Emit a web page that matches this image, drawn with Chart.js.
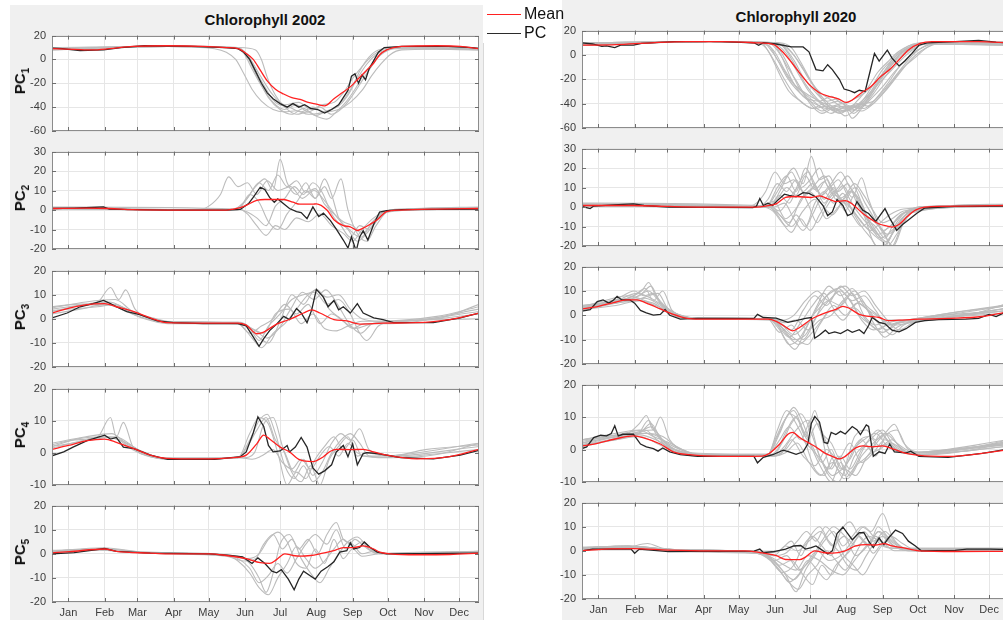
<!DOCTYPE html>
<html>
<head>
<meta charset="utf-8">
<script src="https://cdn.jsdelivr.net/npm/chart.js@4.4.0/dist/chart.umd.min.js"></script>
<style>
    body { margin: 0; width: 1003px; height: 620px; overflow: hidden; background: #fff; position: relative; font-family: "Liberation Sans", Arial, sans-serif; }
    .fig { position: absolute; background: #f0f0f0; }
    #figL { left: 10px; top: 5px; width: 473px; height: 615px; border-right: 1px solid #d8d8d8; }
    #figR { left: 562px; top: 0; width: 441px; height: 620px; }
    .title { position: absolute; font-weight: bold; font-size: 15px; color: #111; transform: translateX(-50%); white-space: nowrap; }
    .ylab { position: absolute; font-weight: bold; font-size: 15px; color: #111; transform: translate(-50%, -50%) rotate(-90deg); white-space: nowrap; }
    .ylab sub { font-size: 10px; }
    canvas { position: absolute; }
    #legend { position: absolute; left: 483px; top: 0; width: 79px; height: 43px; background: #fff; font-size: 16px; color: #111; }
    #legend div { position: absolute; left: 4px; height: 18px; line-height: 18px; white-space: nowrap; }
    #legend span { display: inline-block; width: 34px; height: 0; vertical-align: middle; margin-right: 3px; }
</style>
</head>
<body>
<div class="fig" id="figL"></div>
<div class="fig" id="figR"></div>
<div class="title" style="left:265px; top:11px;">Chlorophyll 2002</div>
<div class="title" style="left:796px; top:8px;">Chlorophyll 2020</div>
<div id="legend">
    <div style="top:5px;"><span style="border-top:1.5px solid #ff2020;"></span>Mean</div>
    <div style="top:24px;"><span style="border-top:1.5px solid #2b2b2b;"></span>PC</div>
</div>

<script>
// Month labels sit at mid-month (day of year)
const months = ["Jan", "Feb", "Mar", "Apr", "May", "Jun", "Jul", "Aug", "Sep", "Oct", "Nov", "Dec"];
const monthDays = [15, 46, 74, 105, 135, 166, 196, 227, 258, 288, 319, 349];

// y axis [min, max, step] for PC1..PC5
const yRanges = [[-60, 20, 20], [-20, 30, 10], [-20, 20, 10], [-10, 20, 10], [-20, 20, 10]];

// ---------- 2002 ----------
const mean2002_1 = [[1,9],[20,8.5],[35,8],[50,9],[70,11],[100,11.5],[130,11],[150,10],[160,9],[167,5],[173,0],[179,-9],[185,-18],[192,-25],[199,-29],[206,-32],[213,-33.5],[220,-36],[227,-37.5],[234,-39],[242,-33],[249,-28],[256,-23],[263,-16],[270,-9],[276,-3],[281,4],[287,8],[293,10],[300,11],[330,11.5],[350,11],[366,9]];
const pc2002_1 = [[1,9.5],[10,9],[15,8.5],[25,7.5],[45,8],[60,10],[80,11.5],[120,11],[150,10],[160,9],[165,6],[170,0],[175,-10],[180,-20],[185,-28],[190,-33],[196,-37],[202,-40],[207,-37],[212,-40],[217,-38],[222,-41],[228,-42],[234,-45],[240,-42],[246,-38],[250,-32],[254,-26],[257,-14],[260,-12],[263,-20],[266,-13],[269,-17],[272,-8],[276,-1],[280,6],[285,10],[300,11],[340,11],[360,10],[366,9]];
const others2002_1 = [
    [[1,9],[60,10],[100,11],[140,9],[150,6],[158,0],[165,-12],[172,-25],[180,-35],[190,-42],[200,-44],[210,-43],[220,-46],[230,-45],[240,-42],[250,-34],[258,-22],[265,-8],[272,2],[280,8],[300,10],[366,9]],
    [[1,8],[100,11],[160,10],[175,8],[180,0],[185,-15],[192,-30],[200,-40],[210,-46],[220,-44],[228,-48],[236,-50],[244,-44],[252,-36],[260,-25],[268,-12],[276,-2],[285,6],[300,10],[366,8]],
    [[1,8],[100,11.5],[155,10],[165,5],[172,-8],[180,-22],[190,-36],[200,-42],[210,-38],[220,-44],[230,-40],[240,-46],[250,-40],[258,-30],[266,-18],[274,-6],[282,4],[292,9],[366,8]],
    [[1,9],[100,11],[160,9],[168,2],[176,-14],[186,-32],[196,-42],[206,-46],[216,-41],[226,-47],[236,-43],[246,-39],[254,-30],[262,-16],[270,-4],[278,4],[290,9],[366,10]],
    [[1,10],[100,11],[160,10],[168,4],[178,-12],[190,-30],[200,-38],[212,-36],[222,-42],[232,-38],[242,-36],[250,-28],[258,-16],[266,-6],[276,4],[290,10],[366,9]],
    [[1,9],[100,11],[162,9],[170,0],[180,-18],[192,-36],[204,-40],[214,-44],[224,-40],[234,-44],[246,-42],[256,-36],[266,-26],[274,-14],[282,-4],[290,4],[300,8],[366,9]]
];

const mean2002_2 = [[1,0.8],[30,1],[50,0.8],[70,0.2],[100,0],[150,0],[156,0.5],[162,1.2],[167,2.4],[176,5],[183,5.4],[199,5.4],[207,4],[213,3],[224,3],[227,3.2],[236,0],[242,-5],[250,-8],[256,-8.6],[262,-10.5],[267,-9.3],[273,-7.3],[279,-5],[287,-0.8],[299,0],[330,0.5],[366,0.8]];
const pc2002_2 = [[1,0.8],[20,1],[35,1.3],[45,1.6],[50,0.5],[70,0.2],[100,0],[150,0],[162,0.3],[169,3.3],[173,6.5],[179,11.7],[183,10.5],[187,6.5],[191,4],[194,5.7],[199,3.2],[204,0.8],[210,-0.8],[214,-1.3],[219,-4.4],[224,1.6],[229,-3.3],[233,-1.6],[239,-5.4],[244,-9.8],[250,-15.4],[254,-19.5],[257,-13.8],[261,-21],[264,-13.8],[267,-10.6],[271,-15.4],[276,-7.3],[281,-1.1],[287,-0.3],[300,0.2],[366,0.5]];
const others2002_2 = [
    [[1,1],[125,0],[135,2],[145,8],[152,17],[160,12],[168,14],[176,8],[185,15],[194,10],[205,12],[215,6],[225,10],[235,4],[245,-4],[255,-10],[265,-14],[275,-6],[285,-1],[300,0.5],[366,1]],
    [[1,1],[150,0],[160,1],[168,-2],[176,-8],[184,-13],[192,-8],[200,-10],[210,-4],[220,-6],[230,-2],[240,-8],[250,-12],[258,-16],[266,-10],[276,-4],[290,0],[366,1]],
    [[1,0.5],[155,0],[165,4],[175,12],[183,16],[190,10],[196,26],[202,14],[210,8],[218,14],[226,6],[234,12],[240,6],[248,16],[254,0],[262,-12],[270,-16],[278,-8],[290,0],[366,0.5]],
    [[1,1],[158,0],[168,6],[178,14],[186,10],[194,18],[202,12],[210,15],[218,9],[226,11],[234,3],[242,-2],[250,-6],[258,-8],[266,-12],[276,-6],[288,-1],[366,1]],
    [[1,1.5],[158,0.5],[168,-1],[176,-4],[184,-8],[192,2],[200,6],[208,12],[216,8],[224,14],[232,9],[240,-2],[248,-8],[256,-14],[264,-8],[272,-10],[282,-3],[295,0],[366,1.5]],
    [[1,0.5],[160,0],[170,8],[178,4],[186,-6],[194,-10],[202,-2],[210,4],[218,10],[226,6],[234,16],[240,8],[246,-4],[254,-10],[262,-16],[270,-12],[280,-4],[295,0],[366,0.5]]
];

const mean2002_3 = [[1,2.4],[15,4.3],[28,5.7],[46,6.3],[56,5],[71,3],[85,0.4],[99,-1.6],[130,-1.8],[160,-1.8],[167,-2.6],[176,-6.2],[182,-5.5],[193,-2.2],[204,-0.3],[216,2.4],[223,3.7],[230,2.4],[242,-0.3],[253,-0.9],[264,-2.2],[284,-1.8],[312,-1.6],[341,-0.3],[366,2.4]];
const pc2002_3 = [[1,0.4],[14,2.4],[25,5],[36,6.3],[45,7.6],[51,6.3],[56,5],[65,3],[76,1.7],[91,-0.9],[105,-1.6],[130,-2],[160,-2],[167,-2.9],[173,-7.5],[178,-11.4],[182,-8.2],[187,-4.9],[193,-2.2],[199,1],[204,-0.3],[210,4.3],[214,2.4],[219,-1.6],[223,3.7],[227,12.2],[233,9],[237,5],[242,7.6],[246,3.7],[250,5],[256,2.4],[262,6.3],[267,2.4],[276,0.4],[284,-0.3],[293,-1.6],[327,-1.6],[350,0.4],[366,2.4]];
const others2002_3 = [
    [[1,5],[20,6],[40,7],[51,13],[58,8],[64,12],[72,4],[85,0],[100,-1.5],[160,-1.5],[170,-4],[178,-9],[186,-3],[196,2],[206,8],[216,10],[226,11],[236,6],[246,8],[256,2],[264,-6],[270,-9],[280,-3],[295,-1],[330,0],[366,6]],
    [[1,3],[20,5],[45,6],[60,5],[75,2],[95,-1],[160,-2],[172,-8],[180,-12],[190,-6],[200,-2],[210,4],[220,10],[228,12],[238,4],[248,0],[258,-4],[268,-2],[290,-2],[366,4]],
    [[1,4],[30,6],[50,7],[65,4],[80,1],[100,-1.5],[160,-2],[175,-5],[185,-8],[195,-4],[205,4],[215,11],[225,8],[235,12],[245,6],[255,-2],[265,-6],[275,-2],[300,-1],[366,3]],
    [[1,2],[25,4],[48,6],[60,4],[80,0],[100,-2],[160,-2],[170,-6],[180,-3],[190,0],[200,6],[210,2],[220,6],[230,-2],[240,2],[250,-1],[260,-4],[275,-2],[366,0]],
    [[1,4.5],[30,7],[55,8],[70,3],[90,0],[110,-1.8],[165,-2],[176,-7],[186,-10],[196,-1],[206,10],[216,6],[226,12],[236,9],[246,10],[256,4],[266,0],[280,-1],[330,1],[366,5]],
    [[1,3.5],[40,5],[55,6],[70,2],[100,-1.5],[162,-1.5],[172,-4],[182,-6],[192,2],[204,4],[214,-2],[224,2],[234,-4],[244,-5],[254,-3],[266,-1],[300,-1],[366,2]]
];

const mean2002_4 = [[1,1.1],[15,2.3],[31,3.8],[46,4.3],[56,3.3],[71,1.3],[85,-0.7],[99,-1.7],[128,-1.9],[156,-1.5],[167,-0.7],[176,2.8],[182,5.5],[187,4.3],[196,1.8],[204,0.3],[213,-2.2],[224,-2.7],[233,-1.2],[239,0.5],[244,1.1],[256,1],[267,1.1],[276,0.3],[287,-0.7],[313,-1.9],[341,-1.2],[366,1.1]];
const pc2002_4 = [[1,-0.9],[11,0.3],[19,1.8],[31,3.8],[46,5.5],[51,4.3],[56,4.8],[62,1.8],[71,1.3],[85,-0.7],[100,-2],[140,-2],[162,-1.2],[167,0.3],[173,6.2],[177,11.2],[182,8.2],[186,2.3],[190,0.3],[196,0.6],[202,2.3],[204,0.3],[209,1.8],[214,4.8],[219,1.8],[224,-4.7],[229,-6.6],[234,-5.6],[240,-3.7],[244,0.3],[250,2.3],[254,-1.2],[258,2.8],[262,-3.7],[267,-0.2],[270,0.1],[279,-0.2],[299,-1.5],[327,-1.9],[350,-0.7],[366,0.8]];
const others2002_4 = [
    [[1,2.5],[20,4],[40,5],[51,11],[56,5],[62,9.5],[70,2],[85,-1],[110,-2],[160,-1.5],[170,4],[178,10],[185,12],[192,6],[200,-4],[208,-8],[216,-4],[224,-9],[232,-6],[240,0],[248,4],[256,6],[264,3],[272,-1],[290,-1.5],[330,-0.5],[366,3]],
    [[1,2],[25,4.5],[45,5],[58,4],[70,1],[90,-1.5],[165,-1.5],[174,0],[182,9],[190,11],[198,2],[206,-6],[214,-9],[222,-4],[230,-10],[238,-2],[246,2],[254,5],[262,-1],[270,0],[290,-1],[366,2]],
    [[1,1.5],[30,4],[50,5],[65,3],[80,0],[100,-2],[160,-1.5],[168,2],[176,7],[184,11],[192,4],[200,0],[208,-6],[216,-2],[224,-7],[232,-3],[240,3],[248,6],[256,4],[264,7.5],[272,1],[290,-1],[320,1],[366,2.5]],
    [[1,3],[30,5],[52,6],[64,3],[80,-0.5],[100,-2],[162,-1.5],[172,-2],[180,-1],[190,1],[198,-3],[206,-5],[214,-2],[222,-5],[230,-1],[238,2],[246,-1],[254,3],[262,0],[280,-1.5],[366,1]],
    [[1,2],[35,4],[55,5],[75,1],[100,-2],[160,-1.5],[170,6],[178,11],[186,9],[194,0],[202,-10],[210,-6],[218,-8],[226,-2],[234,2],[242,5],[250,1],[258,4],[266,-1],[280,-1],[366,3]]
];

const mean2002_5 = [[1,0.4],[16,0.9],[46,2],[56,1],[85,0.3],[100,0],[136,0],[150,-0.7],[167,-2],[179,-3.7],[187,-4],[193,-2.4],[200,0],[207,-0.7],[213,-1],[222,-0.7],[230,0],[242,1.3],[250,2.6],[259,2.6],[267,3.3],[276,2],[281,0.7],[290,0],[313,-0.4],[341,-0.3],[366,0.3]];
const pc2002_5 = [[1,0],[20,0.5],[46,2.2],[56,1],[85,0.3],[136,0],[153,-0.7],[164,-1.3],[172,-4],[177,-1.7],[183,-4],[189,-7.2],[193,-7.9],[197,-6.6],[203,-10.5],[208,-14.9],[212,-10.5],[216,-7.2],[222,-9.2],[226,-10.5],[231,-7.2],[237,-5.3],[242,-3.3],[247,0.7],[253,1.3],[256,4.6],[259,2],[264,2.6],[268,4.9],[273,2.6],[279,0.7],[287,0],[366,0.3]];
const others2002_5 = [
    [[1,1],[40,2],[70,1],[130,0],[160,-1],[170,-4],[178,-10],[184,-16],[190,-8],[196,4],[204,8],[212,2],[220,6],[228,0],[236,8],[244,13],[250,6],[258,4],[266,0],[276,1],[290,0],[366,1]],
    [[1,1.5],[45,2],[80,0.5],[140,0],[160,-2],[170,-6],[178,-12],[186,-9],[194,-4],[202,-8],[210,-2],[218,4],[226,8],[236,4],[244,10],[252,2],[260,6],[268,3],[280,0],[366,0.5]],
    [[1,0.5],[40,1.5],[75,0.5],[150,-1],[165,-3],[175,-2],[182,4],[190,8],[198,2],[206,6],[214,-2],[222,-8],[230,-12],[238,-6],[246,0],[254,5],[262,7],[272,2],[282,0],[366,0.5]],
    [[1,1],[50,2],[80,0.5],[150,-0.5],[160,-3],[170,-8],[178,-14],[186,-17],[194,-10],[202,-4],[210,3],[218,-2],[226,-6],[234,-3],[242,2],[250,6],[258,3],[266,5],[276,1],[290,0],[366,1]],
    [[1,1],[45,2.5],[80,0.5],[155,-1],[168,-2],[178,0],[186,6],[194,9],[202,5],[210,-4],[218,-6],[226,2],[234,-4],[242,6],[250,-2],[258,2],[266,-1],[280,0],[366,1]]
];

// ---------- 2020 ----------
const mean2020_1 = [[1,8],[30,8.5],[60,10],[90,11],[120,11],[150,10],[165,8.5],[172,3],[180,-6],[188,-16],[196,-25],[204,-31],[212,-34],[220,-36],[227,-39],[232,-37],[240,-31],[248,-26],[256,-18],[264,-12],[272,-4],[280,4],[290,9.5],[300,11],[340,11],[366,10]];
const pc2020_1 = [[1,10],[10,9],[18,7],[22,7.5],[29,6],[34,8],[45,8],[52,9.5],[80,11],[120,11],[148,10],[152,8],[156,10],[167,9],[180,6.6],[190,6.6],[195,2.6],[201,-12],[207,-13],[211,-8],[215,-12],[221,-20],[225,-28],[229,-29],[234,-31],[238,-29],[243,-30],[248,-10.5],[251,1.3],[255,-5],[262,4],[266,-2.6],[272,-9],[277,-5],[283,1.3],[289,8],[296,10],[320,11],[340,12],[355,10.5],[366,10]];
const others2020_1 = [
    [[1,9],[60,10],[110,11],[150,10],[158,6],[166,-6],[174,-20],[182,-32],[190,-40],[200,-44],[210,-42],[220,-47],[230,-45],[240,-38],[250,-28],[258,-18],[266,-8],[274,2],[284,8],[300,10],[366,9]],
    [[1,8],[110,11],[160,10],[170,4],[178,-10],[186,-26],[196,-38],[206,-46],[216,-43],[226,-50],[236,-44],[246,-34],[256,-22],[266,-12],[276,-2],[288,7],[305,10],[366,9]],
    [[1,10],[110,11],[165,9],[175,2],[185,-14],[195,-30],[205,-40],[215,-45],[225,-42],[233,-48],[242,-40],[250,-30],[258,-16],[266,-4],[276,5],[290,10],[366,10]],
    [[1,9],[110,11],[155,9],[162,0],[170,-16],[178,-30],[188,-38],[198,-44],[208,-40],[218,-46],[228,-42],[238,-44],[248,-36],[258,-26],[268,-14],[278,-4],[288,4],[300,9],[366,9]],
    [[1,8],[110,11],[168,9],[178,4],[188,-8],[198,-24],[206,-36],[214,-42],[224,-40],[232,-52],[240,-44],[248,-32],[256,-20],[264,-10],[272,-2],[282,6],[296,10],[366,8]],
    [[1,9],[110,11],[160,8],[168,-4],[176,-18],[184,-28],[194,-36],[204,-38],[214,-34],[224,-40],[234,-36],[244,-30],[254,-20],[262,-10],[272,0],[282,7],[296,10],[366,9]],
    [[1,10],[110,11],[172,9],[182,0],[190,-12],[198,-24],[206,-32],[216,-38],[226,-44],[236,-40],[246,-42],[256,-34],[266,-22],[276,-10],[286,-2],[296,6],[310,10],[366,10]],
    [[1,8],[110,11],[158,9],[166,2],[174,-12],[184,-26],[194,-34],[204,-42],[214,-48],[222,-44],[232,-46],[242,-36],[250,-24],[258,-12],[266,-4],[276,4],[290,9],[366,8]],
    [[1,9],[110,11],[166,10],[174,6],[182,-4],[190,-18],[200,-30],[210,-38],[220,-36],[230,-42],[240,-40],[250,-38],[260,-28],[270,-16],[280,-4],[290,5],[304,10],[366,9]],
    [[1,10],[110,11],[162,9],[170,1],[178,-12],[186,-24],[196,-40],[206,-48],[216,-44],[226,-46],[236,-38],[246,-26],[254,-14],[262,-6],[272,3],[286,9],[366,10]],
    [[1,9],[110,11],[164,9],[172,-2],[180,-20],[190,-34],[200,-40],[210,-44],[220,-42],[230,-44],[240,-46],[250,-40],[260,-30],[270,-18],[280,-6],[292,4],[306,10],[366,9]],
    [[1,8],[110,11],[170,10],[180,6],[188,-6],[196,-20],[204,-32],[212,-40],[222,-46],[232,-44],[242,-38],[252,-24],[260,-14],[268,-4],[278,4],[292,9],[366,8]],
    [[1,9],[110,11],[156,10],[164,2],[172,-10],[180,-22],[190,-30],[200,-36],[210,-40],[220,-38],[230,-43],[240,-42],[250,-32],[260,-18],[270,-6],[280,3],[294,9],[366,9]],
    [[1,10],[110,11],[168,10],[176,3],[184,-10],[192,-24],[202,-36],[212,-44],[222,-48],[232,-42],[242,-44],[252,-36],[262,-24],[272,-10],[282,0],[294,7],[310,10],[366,10]]
];

const mean2020_2 = [[1,0.8],[45,0.8],[75,0.3],[105,0],[150,0],[158,0.5],[167,1.6],[175,4.9],[184,5.4],[197,4.9],[204,5.7],[212,4],[218,2.8],[226,3.3],[232,1.6],[241,-3.3],[249,-6.6],[255,-8.7],[262,-9.8],[266,-10.3],[272,-9],[279,-4.9],[286,-1.6],[294,0],[330,0.5],[366,0.8]];
const pc2020_2 = [[1,0.3],[8,-0.8],[11,0.5],[28,1.1],[45,1.6],[54,0.8],[75,0],[147,-0.3],[150,0.3],[153,4.4],[156,0.8],[160,2],[164,0.8],[168,3.3],[174,6.6],[178,6],[184,5.2],[190,7.4],[195,7],[201,5.2],[207,0.8],[211,-4.4],[215,-2.5],[219,3.8],[224,0.8],[228,-4.4],[232,-3.3],[236,2.8],[241,-1.6],[246,-3.3],[252,-7.4],[255,-4.9],[260,-0.8],[264,-5.7],[270,-12],[275,-9],[280,-6.6],[287,-3.3],[294,-0.5],[320,0.3],[366,0.5]];
const others2020_2 = [
    [[1,1],[140,0],[150,2],[158,8],[166,18],[174,12],[182,14],[190,8],[198,12],[206,6],[214,10],[222,4],[230,0],[240,-8],[250,-14],[260,-18],[268,-12],[278,-4],[290,0],[366,1]],
    [[1,1.5],[155,0],[164,-2],[172,-8],[180,-13],[188,-6],[196,-12],[204,-4],[212,4],[220,10],[228,16],[236,8],[244,-4],[252,-12],[262,-20],[270,-14],[280,-4],[292,0],[366,1]],
    [[1,0.5],[158,0],[166,6],[174,14],[182,20],[190,12],[197,26],[204,14],[212,16],[220,8],[228,12],[236,2],[244,-6],[252,-10],[260,-16],[268,-8],[280,-2],[366,0.5]],
    [[1,1],[160,0],[168,4],[176,10],[184,6],[192,16],[200,9],[208,13],[216,6],[224,11],[232,5],[240,15],[246,4],[254,-8],[262,-14],[272,-10],[282,-3],[366,1]],
    [[1,2],[160,0.5],[168,-4],[176,-10],[184,-4],[192,-10],[200,2],[208,8],[216,2],[224,7],[232,-2],[240,-10],[248,-16],[256,-22],[264,-16],[274,-6],[286,-1],[366,1.5]],
    [[1,1],[158,0],[168,10],[176,16],[184,8],[192,20],[200,12],[208,4],[216,10],[224,2],[232,8],[240,-2],[248,-6],[258,-12],[266,-20],[274,-10],[284,-2],[366,1]],
    [[1,0.5],[165,0],[174,2],[182,-6],[190,-12],[198,-4],[206,6],[214,12],[222,18],[230,10],[238,4],[246,-8],[254,-14],[262,-18],[270,-8],[280,-2],[366,0.5]],
    [[1,1],[152,0],[160,4],[168,12],[176,8],[184,14],[192,6],[200,10],[208,2],[216,8],[224,3],[232,-4],[240,-10],[250,-6],[258,-12],[266,-9],[276,-3],[290,0],[366,1]],
    [[1,1.5],[162,0],[170,-2],[178,4],[186,10],[194,2],[202,-8],[210,0],[218,6],[226,-2],[234,6],[242,-4],[250,-18],[258,-22],[266,-14],[276,-5],[288,0],[366,1]],
    [[1,1],[160,0],[170,6],[178,2],[186,12],[194,18],[202,8],[210,14],[218,4],[226,6],[234,12],[242,6],[250,-2],[258,-8],[266,-6],[276,-2],[366,1]],
    [[1,1],[150,0],[160,2],[170,-4],[180,-10],[190,-2],[200,4],[210,-6],[220,0],[230,8],[240,2],[248,-10],[256,-16],[266,-12],[278,-4],[290,0],[366,1]],
    [[1,0.5],[162,0],[170,8],[180,18],[188,10],[196,14],[204,20],[212,10],[220,14],[228,6],[236,-2],[244,-8],[254,-14],[264,-10],[276,-3],[366,0.5]],
    [[1,1.5],[155,0],[165,3],[175,-6],[185,0],[195,8],[205,2],[215,-4],[225,4],[235,10],[243,2],[251,-6],[259,-14],[267,-20],[276,-8],[288,-1],[366,1]],
    [[1,1],[160,0],[168,-3],[178,-8],[188,4],[198,10],[208,16],[218,6],[228,2],[238,-6],[248,-12],[256,-8],[264,-4],[276,-1],[366,1]]
];

const mean2020_3 = [[1,2.6],[15,3.7],[28,5.2],[39,6.3],[48,6.3],[56,5],[68,2.6],[79,0.4],[90,-1.2],[102,-1.6],[160,-1.6],[167,-2.5],[175,-4.8],[181,-6.4],[187,-5],[197,-1.6],[209,1],[218,2.4],[224,3.7],[229,3],[238,0.4],[244,-0.3],[255,-0.9],[263,-2.2],[272,-2],[289,-1.6],[314,-1.3],[343,-0.5],[366,1.5]];
const pc2020_3 = [[1,1.7],[8,2.3],[14,5.6],[19,6.3],[24,5],[28,6.3],[31,7.8],[35,6.3],[42,6.3],[46,5],[51,2],[56,1],[62,0.1],[68,0.4],[72,2.4],[76,0],[85,-1.6],[100,-1.3],[148,-1.3],[151,0.4],[156,-0.9],[167,-1.2],[177,-2.9],[184,-2.2],[192,-1.3],[197,-0.9],[200,-9.4],[204,-8.1],[209,-6.1],[212,-7.5],[217,-6.8],[222,-7.5],[228,-5.9],[232,-7],[238,-5.9],[242,-7.5],[246,-4.2],[249,-0.9],[255,-2.9],[260,-3.5],[266,-6.1],[272,-6.8],[278,-5.5],[286,-2.9],[294,-2.2],[306,-1.8],[329,-1.6],[340,-1.3],[349,0.4],[355,-0.5],[366,2]];
const others2020_3 = [
    [[1,3],[20,5],[40,7],[52,10],[58,13.5],[64,8],[72,3],[85,-1],[110,-1.5],[160,-1.5],[170,-6],[178,-12],[186,-10],[196,-2],[206,6],[216,10],[226,12],[236,6],[246,2],[256,-4],[266,-8],[276,-4],[290,-2],[330,0],[366,5]],
    [[1,2],[25,5],[45,8],[55,11],[62,6],[70,10],[78,2],[95,-1],[160,-1.5],[172,-4],[182,-8],[192,-4],[202,2],[212,6],[222,4],[232,9],[242,0],[252,-4],[262,-2],[280,-2],[366,3]],
    [[1,4],[30,6],[48,9],[60,7],[70,4],[85,0],[105,-1.5],[165,-2],[175,-10],[183,-14],[192,-6],[202,4],[212,12],[222,8],[232,11],[242,4],[252,-2],[262,-6],[272,-3],[300,-1.5],[366,2]],
    [[1,3],[30,5],[50,6],[62,5],[76,1],[100,-1.5],[160,-1.5],[170,-3],[180,-6],[190,2],[200,8],[210,4],[220,10],[230,3],[240,6],[250,-3],[260,-9],[270,-5],[285,-2],[366,4]],
    [[1,2],[30,5],[52,7],[66,9],[74,3],[90,-0.5],[110,-1.5],[165,-1.5],[176,-8],[186,-12],[196,-8],[206,-2],[216,4],[226,0],[236,5],[246,2],[256,-1],[268,-4],[290,-2],[366,1]],
    [[1,3.5],[20,6],[40,8],[55,6],[70,2],[90,-1],[160,-1.5],[172,-2],[182,0],[192,6],[202,10],[212,6],[222,12],[232,8],[242,10],[252,4],[262,-2],[272,-6],[284,-3],[300,-2],[366,3]],
    [[1,2.5],[25,6],[50,8],[60,12],[66,7],[80,1],[100,-1.5],[162,-1.8],[174,-6],[184,-10],[194,-12],[204,-4],[214,2],[224,-2],[234,3],[244,-2],[254,-6],[264,-3],[280,-2],[366,2]],
    [[1,4],[35,6],[55,7],[75,2],[95,-1],[160,-1.5],[168,-4],[178,-9],[188,-3],[198,4],[208,9],[218,2],[228,7],[238,0],[248,-4],[258,-7],[270,-3],[290,-1.5],[366,4]],
    [[1,3],[25,5],[45,7],[58,10],[68,5],[82,0],[100,-1.5],[162,-1.5],[172,-5],[182,-10],[192,-8],[202,0],[212,6],[222,10],[232,6],[242,8],[252,2],[262,-4],[274,-3],[300,-1.5],[366,3]],
    [[1,2.5],[30,4],[50,6],[64,4],[78,0.5],[100,-1.5],[164,-1.5],[174,-3],[184,-2],[194,-6],[204,-2],[214,0],[224,6],[234,10],[244,4],[254,0],[264,-4],[278,-2],[366,2]],
    [[1,3.5],[28,6],[46,10],[54,8],[62,9],[72,2],[90,-1],[160,-1.5],[170,-7],[180,-4],[190,-10],[200,-2],[210,8],[220,11],[230,6],[240,-2],[250,-6],[262,-4],[280,-2],[366,4.5]]
];

const mean2020_4 = [[1,1.1],[15,2],[31,3.4],[45,4.2],[53,3.7],[68,1.7],[79,-0.7],[93,-1.6],[120,-2.1],[155,-2],[161,-1.2],[170,1.7],[177,4.7],[181,5.3],[187,3.7],[194,2.2],[201,0.8],[209,-1.2],[215,-2.1],[221,-2.9],[226,-2.1],[235,0.5],[241,1.1],[249,0.8],[258,1.1],[266,0.3],[278,-1.2],[289,-1.8],[314,-2.1],[343,-1.2],[366,0]];
const pc2020_4 = [[1,0.3],[5,0.8],[11,3.7],[17,4.4],[22,4.2],[26,4.9],[29,7.3],[32,4.2],[36,4.7],[45,4.7],[51,1.7],[56,0.8],[62,0.3],[66,-0.5],[70,0.5],[76,-0.7],[85,-1.6],[100,-2.1],[148,-2.1],[151,-4.1],[156,-2.4],[164,-1.6],[173,-0.2],[178,-0.7],[184,-1.5],[190,-0.7],[194,1.7],[197,8],[200,10.2],[204,8.5],[208,2.2],[211,1.9],[214,5.3],[218,4.6],[222,5.6],[226,4.8],[232,7.1],[236,6.1],[239,4.6],[244,7.6],[246,7.1],[250,-2.1],[255,-0.7],[260,-1.2],[264,1.7],[268,-0.7],[278,-1],[282,-0.5],[289,-2.1],[314,-2.4],[343,-1.2],[351,-0.7],[366,0.2]];
const others2020_4 = [
    [[1,2],[20,4],[40,5],[50,8],[56,10.5],[62,6],[68,10],[76,3],[90,-0.5],[110,-2],[160,-1.5],[168,4],[176,10],[182,13],[190,8],[198,0],[206,-6],[214,-10],[222,-4],[230,-8],[240,-2],[250,2],[260,5],[268,7.8],[276,2],[290,-1],[340,1],[366,3]],
    [[1,1.5],[30,4],[50,5.5],[60,7],[70,3],[85,0],[105,-1.8],[165,-1.5],[172,2],[180,8],[188,11],[196,6],[204,-2],[212,-8],[220,-10],[228,-4],[236,2],[246,4],[256,1],[266,3],[278,-1],[300,-1.5],[366,2]],
    [[1,3],[30,4.5],[52,5],[66,4],[80,0],[100,-1.8],[160,-1.8],[168,0],[176,6],[184,10],[192,4],[200,12],[206,4],[214,-6],[222,-2],[230,-6],[240,0],[250,4],[258,6],[266,2],[280,-1],[366,1.5]],
    [[1,1],[30,3.5],[50,4.5],[64,3],[80,-0.5],[100,-2],[165,-2],[175,-1],[185,2],[195,-4],[205,-8],[215,-4],[225,-9],[235,-5],[245,-2],[255,3],[263,5],[272,1],[285,-1.5],[366,1]],
    [[1,2.5],[30,4.5],[55,6],[65,3],[80,0],[100,-1.5],[160,-1.5],[166,3],[174,9],[182,12],[190,6],[198,1],[206,-4],[214,0],[222,-6],[230,-3],[240,3],[248,0],[256,5],[264,2],[276,-1],[366,2]],
    [[1,2],[35,4],[48,4.5],[58,9],[64,5],[80,0],[100,-1.8],[165,-1.8],[174,1],[184,6],[194,9],[204,-2],[212,-6],[220,-2],[228,-9],[236,-4],[244,1],[252,-2],[260,4],[270,6],[280,0],[300,-1],[366,2.5]],
    [[1,1.5],[30,3],[50,4],[70,1],[90,-1.5],[165,-2],[172,-1],[180,3],[190,-2],[200,-5],[210,0],[220,-3],[230,2],[240,-4],[250,-1],[260,3],[270,0],[285,-1.5],[366,1]],
    [[1,3],[30,5],[50,6],[62,4],[76,2],[95,-1],[160,-1.5],[170,5],[178,11],[186,9],[194,3],[202,8],[210,2],[218,-5],[226,-8],[234,-2],[244,2],[254,6],[262,3],[274,-1],[366,2]],
    [[1,2],[30,4],[50,5],[60,8],[70,2],[85,-0.5],[105,-2],[160,-1.5],[168,6],[176,12],[184,8],[192,2],[200,-6],[208,-8],[216,-2],[224,-6],[234,4],[244,6],[252,3],[260,5],[270,2],[285,-1],[366,2]],
    [[1,3],[30,4],[50,5.5],[62,6],[72,2],[90,-1],[165,-2],[175,0],[185,4],[195,1],[205,-3],[215,-8],[225,-6],[235,-8],[245,-2],[255,0],[265,2],[280,-1],[366,3]],
    [[1,1],[30,3],[55,5],[70,4],[85,0],[105,-2],[160,-1.5],[170,3],[178,7],[188,3],[198,10],[206,5],[214,2],[222,-3],[232,0],[242,3],[252,5],[262,1],[276,-1],[366,1.5]]
];

const mean2020_5 = [[1,0],[20,0.7],[45,0.9],[75,0.3],[110,0],[140,0],[153,-0.7],[167,-2],[175,-3.6],[187,-3.7],[192,-2.6],[200,0],[207,-0.7],[215,-1],[226,0],[235,2],[244,2.6],[252,2.4],[259,3],[266,2],[275,1.3],[289,0],[320,-0.3],[366,-0.2]];
const pc2020_5 = [[1,0],[10,0.7],[30,0.7],[43,0.7],[46,-1],[50,0.7],[75,-0.3],[148,-0.1],[153,0.7],[156,-0.7],[164,-0.4],[175,0.7],[182,2],[188,2.2],[192,0.7],[197,1.3],[201,2],[205,0.7],[211,-1.3],[215,0],[219,7.2],[224,9.9],[228,7.2],[232,4.6],[238,7.5],[242,7.5],[246,4],[250,1.3],[255,5.3],[259,2.6],[263,5.3],[269,8.6],[275,7.2],[280,4],[286,2],[291,0],[320,0.2],[330,0.7],[350,0.7],[366,0.5]];
const others2020_5 = [
    [[1,1],[40,1.5],[57,3],[70,1],[100,0],[150,-1],[165,-4],[175,-10],[184,-17],[192,-8],[200,-2],[208,4],[216,8],[224,2],[232,6],[240,10],[248,8],[258,15.5],[266,6],[276,1],[290,0],[366,0.5]],
    [[1,0.5],[45,1.5],[80,0.5],[150,-1],[160,-3],[170,-8],[178,-13],[186,-10],[194,-4],[202,-8],[210,-12],[218,-6],[226,-2],[234,4],[242,8],[250,4],[258,6],[268,2],[280,0],[366,0.5]],
    [[1,1.5],[40,2],[75,0.5],[155,-0.5],[165,-2],[175,-1],[185,4],[193,8],[201,4],[209,10],[217,6],[225,-2],[233,-6],[241,-10],[249,-4],[257,2],[265,6],[275,3],[288,0],[366,1]],
    [[1,1],[40,2],[80,0.5],[150,-0.5],[160,-2],[170,-6],[180,-4],[190,-10],[198,-14],[206,-6],[214,-10],[222,-4],[230,0],[238,6],[246,2],[254,8],[262,4],[272,1],[366,0.5]],
    [[1,0.5],[45,1],[80,0],[150,-1],[162,-4],[172,-9],[182,-6],[190,2],[198,6],[206,2],[214,-2],[222,8],[230,12],[238,6],[246,2],[254,10],[262,6],[272,2],[286,0],[366,0.5]],
    [[1,1.5],[40,2],[80,0.5],[155,-1],[166,-6],[176,-12],[186,-16],[194,-10],[202,-6],[210,0],[218,-4],[226,-8],[234,-2],[242,4],[250,-1],[258,3],[268,0],[280,0],[366,1]],
    [[1,1],[45,1.5],[80,0],[160,-1],[170,0],[180,4],[188,-2],[196,6],[204,10],[212,4],[220,0],[228,-6],[236,-8],[244,-2],[252,4],[260,8],[268,4],[278,1],[366,1]],
    [[1,0.5],[40,1.5],[80,0.5],[155,-1],[164,-3],[174,-6],[184,-8],[194,-2],[204,-4],[214,-8],[224,-10],[234,-4],[244,2],[252,6],[260,2],[270,1],[366,0.5]],
    [[1,1],[40,1.5],[80,0.5],[155,-1],[165,-2],[175,2],[185,0],[195,4],[205,8],[215,2],[225,6],[235,-2],[245,2],[255,8],[265,4],[276,1],[366,1]],
    [[1,0.5],[45,1],[80,0],[150,-1],[162,-3],[172,-8],[182,-12],[192,-6],[202,0],[212,-4],[222,-2],[232,4],[242,10],[250,6],[258,2],[270,1],[366,0.5]],
    [[1,1],[40,2],[80,0.5],[155,-1],[166,-4],[176,-2],[186,-8],[196,-4],[206,4],[216,10],[226,6],[236,2],[246,6],[256,4],[266,2],[280,0],[366,1]]
];

const pts = a => a.map(([x, y]) => ({ x, y }));

// white plot area, box and inward ticks like a MATLAB axes
const axesBox = {
    id: "axesBox",
    beforeDraw(chart) {
        const { ctx, chartArea: a } = chart;
        ctx.save();
        ctx.fillStyle = "#fff";
        ctx.fillRect(a.left, a.top, a.right - a.left, a.bottom - a.top);
        ctx.restore();
    },
    afterDatasetsDraw(chart) {
        const { ctx, chartArea: a, scales } = chart;
        ctx.save();
        ctx.strokeStyle = "#8c8c8c";
        ctx.lineWidth = 1;
        ctx.strokeRect(Math.round(a.left) + 0.5, Math.round(a.top) + 0.5, Math.round(a.right - a.left) - 1, Math.round(a.bottom - a.top) - 1);
        ctx.strokeStyle = "#6e6e6e";
        ctx.beginPath();
        for (const d of monthDays) {
            const px = Math.round(scales.x.getPixelForValue(d)) + 0.5;
            ctx.moveTo(px, a.top); ctx.lineTo(px, a.top + 4);
            ctx.moveTo(px, a.bottom); ctx.lineTo(px, a.bottom - 4);
        }
        for (const t of scales.y.ticks) {
            const py = Math.round(scales.y.getPixelForValue(t.value)) + 0.5;
            ctx.moveTo(a.left, py); ctx.lineTo(a.left + 4, py);
            ctx.moveTo(a.right, py); ctx.lineTo(a.right - 4, py);
        }
        ctx.stroke();
        ctx.restore();
    }
};

const PAD_L = 40, PAD_T = 8, PAD_R = 4, PAD_B = 20;

function makePanel(box, range, mean, pc, others, showMonths) {
    const [x0, y0, x1, y1] = box;
    const canvas = document.createElement("canvas");
    const w = x1 - x0 + PAD_L + PAD_R, h = y1 - y0 + PAD_T + PAD_B;
    canvas.width = w; canvas.height = h;
    canvas.style.left = (x0 - PAD_L) + "px";
    canvas.style.top = (y0 - PAD_T) + "px";
    canvas.style.width = w + "px"; canvas.style.height = h + "px";
    document.body.appendChild(canvas);

    const datasets = [
        { data: pts(mean), borderColor: "#ff2020", borderWidth: 1.3, cubicInterpolationMode: "monotone", order: 0 },
        { data: pts(pc), borderColor: "#262626", borderWidth: 1.3, order: 1 },
        ...others.map(o => ({ data: pts(o), borderColor: "#bcbcbc", borderWidth: 1.1, cubicInterpolationMode: "monotone", order: 2 }))
    ];

    new Chart(canvas.getContext("2d"), {
        type: "line",
        data: { datasets },
        options: {
            responsive: false,
            animation: false,
            devicePixelRatio: 1,
            parsing: false,
            layout: { padding: { top: PAD_T, right: PAD_R, left: 0, bottom: 0 } },
            elements: { point: { radius: 0 } },
            plugins: { legend: { display: false }, tooltip: { enabled: false } },
            scales: {
                x: {
                    type: "linear", min: 1, max: 366,
                    afterBuildTicks: s => { s.ticks = monthDays.map(v => ({ value: v })); },
                    afterFit: s => { s.height = PAD_B; },
                    grid: { color: "#e6e6e6", drawTicks: false },
                    border: { display: false },
                    ticks: {
                        display: showMonths, autoSkip: false, maxRotation: 0, padding: 4,
                        color: "#3c3c3c", font: { size: 11, family: "Liberation Sans" },
                        callback: (v, i) => months[i]
                    }
                },
                y: {
                    min: range[0], max: range[1],
                    afterFit: s => { s.width = PAD_L; },
                    grid: { color: "#e6e6e6", drawTicks: false },
                    border: { display: false },
                    ticks: { stepSize: range[2], padding: 6, color: "#3c3c3c", font: { size: 11, family: "Liberation Sans" } }
                }
            }
        },
        plugins: [axesBox]
    });
}

function ylabel(n, x, y) {
    const d = document.createElement("div");
    d.className = "ylab";
    d.style.left = x + "px";
    d.style.top = y + "px";
    d.innerHTML = "PC<sub>" + n + "</sub>";
    document.body.appendChild(d);
}

const boxes2002 = [[52, 31, 479, 131], [52, 147, 479, 249], [52, 266, 479, 367], [52, 384, 479, 485], [52, 501, 479, 602]];
const boxes2020 = [[582, 26, 1009, 128], [582, 144, 1009, 246], [582, 262, 1009, 364], [582, 380, 1009, 482], [582, 498, 1009, 599]];

const set2002 = [
    [mean2002_1, pc2002_1, others2002_1], [mean2002_2, pc2002_2, others2002_2], [mean2002_3, pc2002_3, others2002_3],
    [mean2002_4, pc2002_4, others2002_4], [mean2002_5, pc2002_5, others2002_5]
];
const set2020 = [
    [mean2020_1, pc2020_1, others2020_1], [mean2020_2, pc2020_2, others2020_2], [mean2020_3, pc2020_3, others2020_3],
    [mean2020_4, pc2020_4, others2020_4], [mean2020_5, pc2020_5, others2020_5]
];

set2002.forEach(([m, p, o], i) => {
    makePanel(boxes2002[i], yRanges[i], m, p, o, i === 4);
    ylabel(i + 1, 21, (boxes2002[i][1] + boxes2002[i][3]) / 2);
});
set2020.forEach(([m, p, o], i) => makePanel(boxes2020[i], yRanges[i], m, p, o, i === 4));

// legend box stays above the right-hand figure
document.body.appendChild(document.getElementById("legend"));
</script>
</body>
</html>
